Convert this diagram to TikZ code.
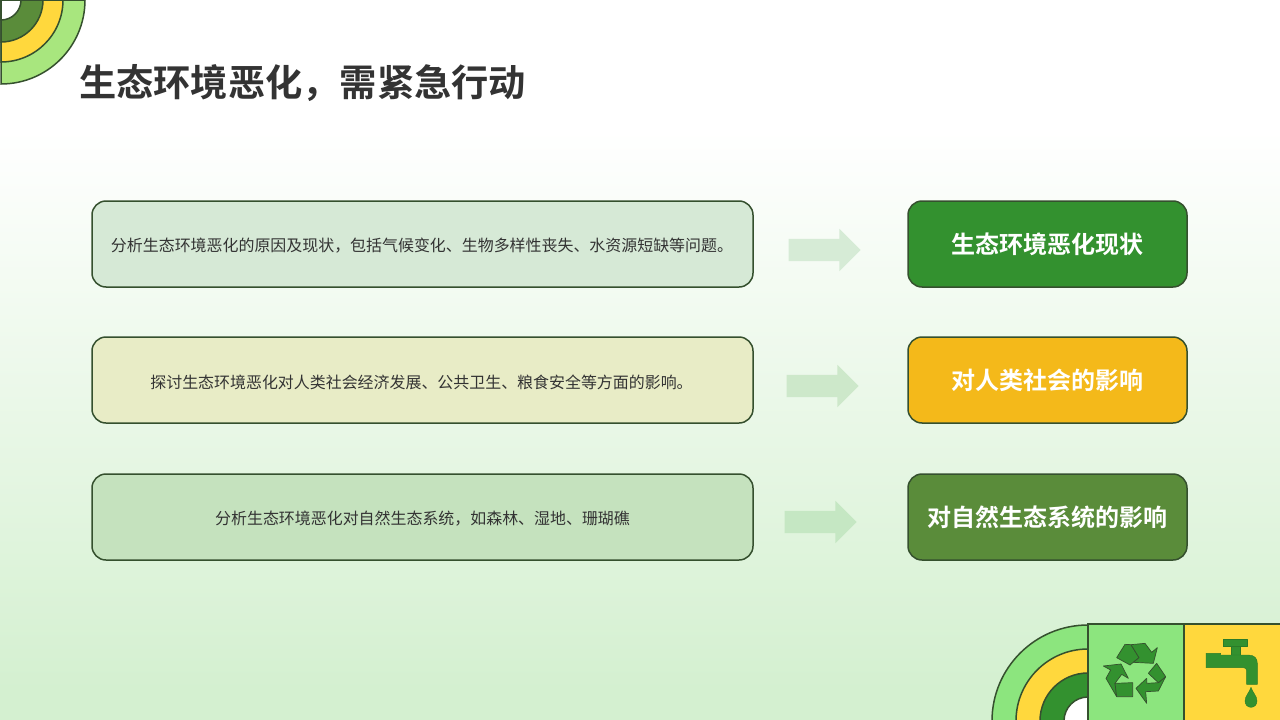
\documentclass[tikz,border=0pt]{standalone}
\usepackage{fontspec}
\usetikzlibrary{shapes.arrows}
\newfontfamily\cjk{Noto Sans CJK SC}
\newfontfamily\cjkb{Noto Sans CJK SC Bold}
\definecolor{ink}{HTML}{333333}
\definecolor{edge}{HTML}{35502E}
\definecolor{bgend}{HTML}{D4F0D0}
\definecolor{gdark}{HTML}{33912F}
\definecolor{golive}{HTML}{5A8C3A}
\definecolor{gold}{HTML}{F4B91A}
\definecolor{ylw}{HTML}{FFD83D}
\definecolor{glight}{HTML}{A8E67E}
\definecolor{gmint}{HTML}{8CE57E}
\tikzset{
  x=1pt,y=-1pt,
  leftbox/.style={draw=edge,line width=1.5pt,rounded corners=14pt,minimum width=661pt,minimum height=86pt,inner sep=0pt},
  rightbox/.style={draw=edge,line width=1.5pt,rounded corners=14pt,minimum width=279pt,minimum height=86pt,inner sep=0pt,font=\cjkb\fontsize{24}{28}\selectfont,text=white},
  bodytext/.style={inner sep=0pt,font=\cjk\fontsize{15.95}{18}\selectfont,text=ink},
  blockarrow/.style={single arrow,draw=none,minimum height=72pt,single arrow head extend=10pt,single arrow tip angle=90,inner xsep=0pt,inner ysep=11pt},
  ring/.style={draw=edge,line width=1.5pt},
  icon/.style={fill=gdark,draw=edge,line width=0.7pt,line join=round},
  tap/.style={fill=gdark,draw=gdark!85!black,line width=0.4pt,line join=round}
}
\begin{document}
\begin{tikzpicture}
\useasboundingbox (0,0) rectangle (1280,720);
\clip (0,0) rectangle (1280,720);
\fill[white] (0,0) rectangle (1280,131);
\fill[top color=white,bottom color=bgend,shading angle=0] (0,130) rectangle (1280,690);
\fill[bgend] (0,689) rectangle (1280,720);

% top-left rings
\foreach \r/\c in {84/glight,62/ylw,42/golive}{
  \filldraw[ring,fill=\c] (1,0) -- (1,\r) arc[start angle=90,end angle=0,radius=\r] -- cycle;
}
\filldraw[ring,fill=white] (1,0) -- (1,20) arc[start angle=90,end angle=0,radius=20] -- cycle;

\node[anchor=west,inner sep=0pt,font=\cjkb\fontsize{37.25}{40}\selectfont,text=ink] (title) at (79,83) {生态环境恶化，需紧急行动};

% rows
\node[leftbox,fill={rgb,255:red,214;green,233;blue,214}] (l1) at (422.5,244) {};
\node[leftbox,fill={rgb,255:red,232;green,236;blue,198}] (l2) at (422.5,380) {};
\node[leftbox,fill={rgb,255:red,197;green,226;blue,190}] (l3) at (422.5,517) {};
\node[bodytext] (t1) at (422,246) {分析生态环境恶化的原因及现状，包括气候变化、生物多样性丧失、水资源短缺等问题。};
\node[bodytext] (t2) at (421.5,382.5) {探讨生态环境恶化对人类社会经济发展、公共卫生、粮食安全等方面的影响。};
\node[bodytext] (t3) at (422.5,519) {分析生态环境恶化对自然生态系统，如森林、湿地、珊瑚礁};

\node[rightbox,fill=gdark] (r1) at (1047.5,244) {生态环境恶化现状};
\node[rightbox,fill=gold] (r2) at (1047.5,380) {对人类社会的影响};
\node[rightbox,fill=golive] (r3) at (1047.5,517) {对自然生态系统的影响};

\node[blockarrow,fill={rgb,255:red,214;green,235;blue,214}] (a1) at (819,250) {};
\node[blockarrow,fill={rgb,255:red,205;green,232;blue,202}] (a2) at (817,386) {};
\node[blockarrow,fill={rgb,255:red,197;green,231;blue,195}] (a3) at (815,522) {};

% bottom-right rings
\foreach \r/\c in {96/gmint,72/ylw,48/gdark}{
  \filldraw[ring,fill=\c] (1088,721) -- ({1088-\r},721) arc[start angle=180,end angle=270,radius=\r] -- cycle;
}
\filldraw[ring,fill=white] (1088,721) -- (1064,721) arc[start angle=180,end angle=270,radius=24] -- cycle;

% squares
\filldraw[ring,fill=gmint] (1088,624) rectangle (1184,722);
\filldraw[ring,fill=ylw] (1184,624) rectangle (1282,722);

% recycle icon
\begin{scope}[shift={(1095,635)},x=0.3333pt,y=-0.3333pt]
  \path[icon] (65,68) -- (90,28) -- (108,29) -- (132,68) -- (105,90) -- cycle;
  \path[icon] (108,29) -- (150,25) -- (170,52) -- (187,38) -- (175,85) -- (115,82) -- (132,68) -- cycle;
  \path[icon] (25,93) -- (78,87) -- (100,130) -- (80,118) -- (60,145) -- (65,185) -- (33,130) -- (47,105) -- cycle;
  \path[icon] (60,145) -- (113,143) -- (113,185) -- (65,185) -- cycle;
  \path[icon] (155,205) -- (123,160) -- (155,130) -- (155,145) -- (190,143) -- (212,125) -- (190,168) -- (152,170) -- cycle;
  \path[icon] (190,143) -- (160,115) -- (185,85) -- (212,125) -- cycle;
\end{scope}

% faucet icon
\begin{scope}[shift={(1195,630)},x=0.3333pt,y=-0.3333pt]
  \path[tap] (85,27) rectangle (157,50);
  \path[tap] (108,50) rectangle (135,75);
  \path[tap] (33,70) -- (77,70) -- (77,75) -- (160,75)
    .. controls (178,75) and (187,85) .. (187,100)
    -- (187,163) -- (155,163) -- (155,122)
    .. controls (155,116) and (151,113) .. (145,113)
    -- (33,113) -- cycle;
  \path[tap] (168,172) .. controls (173,188) and (186,198) .. (186,213)
    .. controls (186,224) and (178,232) .. (168,232)
    .. controls (158,232) and (150,224) .. (150,213)
    .. controls (150,198) and (163,188) .. (168,172) -- cycle;
\end{scope}
\end{tikzpicture}
\end{document}
